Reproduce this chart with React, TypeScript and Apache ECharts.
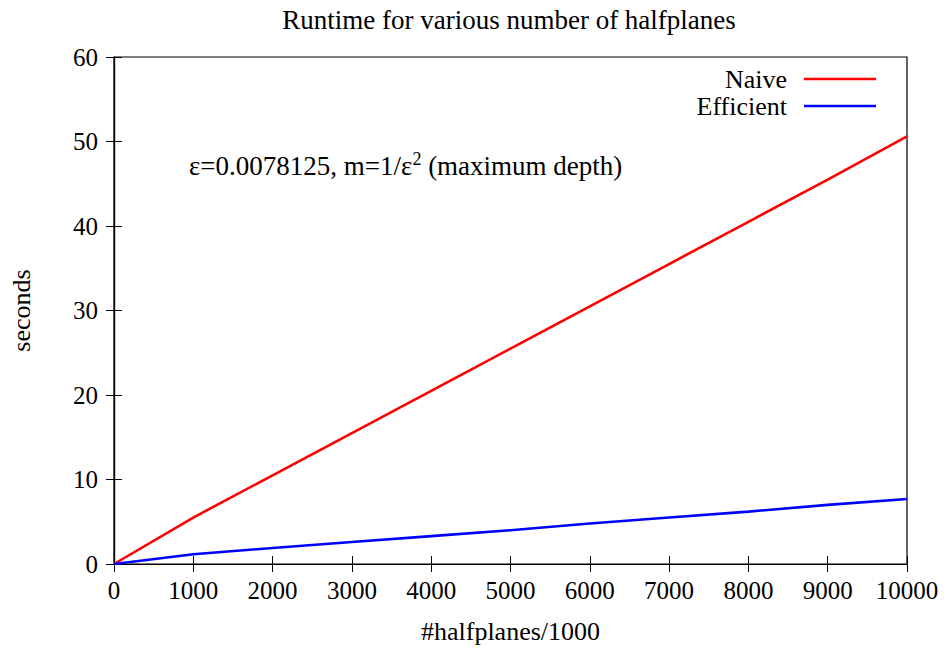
import React, { useEffect, useRef } from "react";
import * as echarts from "echarts";

const halfplanes = [0, 1000, 2000, 3000, 4000, 5000, 6000, 7000, 8000, 9000, 10000];
const naive = [0, 5.5, 10.5, 15.5, 20.5, 25.5, 30.5, 35.5, 40.5, 45.5, 50.6];
const efficient = [0, 1.15, 1.9, 2.6, 3.3, 4.0, 4.8, 5.5, 6.2, 7.0, 7.7];
const seriesNames = ["Naive", "Efficient"];
const titleText = "Runtime for various number of halfplanes";
const xName = "#halfplanes/1000";
const yName = "seconds";

const FONT = "Liberation Serif";

export default function App() {
  const ref = useRef<HTMLDivElement>(null);
  useEffect(() => {
    document.body.style.margin = "0";
    if (!ref.current) return;
    const chart = echarts.init(ref.current, null, { renderer: "svg" });
    const axisCommon = {
      type: "value" as const,
      axisLine: { show: true, lineStyle: { color: "#000", width: 1.2 } },
      axisTick: { show: true, inside: true, length: 8, lineStyle: { color: "#000", width: 1 } },
      splitLine: { show: false },
    };
    chart.setOption({
      animation: false,
      backgroundColor: "#fff",
      textStyle: { fontFamily: FONT },
      grid: { left: 111, right: 42, top: 57, bottom: 86, show: true, borderColor: "#000", borderWidth: 1.2 },
      legend: {
        orient: "vertical",
        right: 68,
        top: 61,
        align: "right",
        icon: "rect",
        itemWidth: 72,
        itemHeight: 2.5,
        itemGap: 1,
        data: seriesNames,
        textStyle: { fontFamily: FONT, fontSize: 26, color: "#000", lineHeight: 26, padding: [0, 12, 0, 0] },
      },
      xAxis: [
        {
          ...axisCommon,
          min: 0,
          max: 10000,
          interval: 1000,
          position: "bottom",
          name: xName,
          nameLocation: "middle",
          nameGap: 54,
          nameTextStyle: { fontFamily: FONT, fontSize: 26, color: "#000" },
          axisLabel: {
            show: true,
            margin: 14,
            fontFamily: FONT,
            fontSize: 25,
            color: "#000",
            formatter: (v: number) => String(v),
          },
        },
        {
          ...axisCommon,
          min: 0,
          max: 10000,
          interval: 1000,
          position: "top",
          axisLabel: { show: false },
        },
      ],
      yAxis: [
        {
          ...axisCommon,
          min: 0,
          max: 60,
          interval: 10,
          position: "left",
          name: yName,
          nameLocation: "middle",
          nameGap: 80,
          nameRotate: 90,
          nameTextStyle: { fontFamily: FONT, fontSize: 26, color: "#000" },
          axisLabel: { show: true, margin: 16, fontFamily: FONT, fontSize: 25, color: "#000" },
        },
        {
          ...axisCommon,
          min: 0,
          max: 60,
          interval: 10,
          position: "right",
          axisLabel: { show: false },
        },
      ],
      series: [
        {
          name: seriesNames[0],
          type: "line",
          data: halfplanes.map((x, i) => [x, naive[i]]),
          symbol: "none",
          lineStyle: { color: "#ff0000", width: 2.6 },
          itemStyle: { color: "#ff0000" },
        },
        {
          name: seriesNames[1],
          type: "line",
          data: halfplanes.map((x, i) => [x, efficient[i]]),
          symbol: "none",
          lineStyle: { color: "#0000ff", width: 2.6 },
          itemStyle: { color: "#0000ff" },
        },
      ],
      graphic: [
        {
          type: "text",
          x: 509,
          y: 6,
          style: { text: titleText, fontFamily: FONT, fontSize: 27, fill: "#000", textAlign: "center" },
        },
        {
          type: "text",
          x: 189,
          y: 150,
          style: {
            text: "{a|ε=0.0078125, m=1/ε}{s|2}{a| (maximum depth)}",
            fontFamily: FONT,
            fill: "#000",
            rich: {
              a: { fontFamily: FONT, fontSize: 27, lineHeight: 32, fill: "#000", verticalAlign: "middle" },
              s: { fontFamily: FONT, fontSize: 18, lineHeight: 18, fill: "#000", verticalAlign: "top" },
            },
          },
        },
      ],
    });
    return () => chart.dispose();
  }, []);
  return <div ref={ref} style={{ width: 949, height: 650 }} />;
}
